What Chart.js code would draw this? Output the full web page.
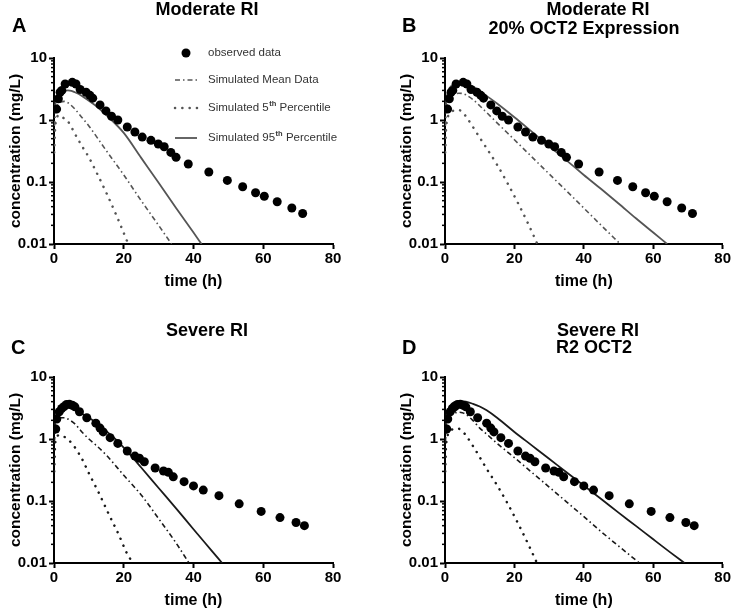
<!DOCTYPE html>
<html>
<head>
<meta charset="utf-8">
<script src="https://cdn.jsdelivr.net/npm/chart.js@4.4.0/dist/chart.umd.min.js"></script>
<style>
  html, body { margin: 0; padding: 0; background: #fff; }
  #wrap { position: relative; width: 732px; height: 611px; overflow: hidden;
          font-family: "Liberation Sans", Arial, sans-serif; }
  #wrap canvas { position: absolute; left: 0; top: 0; }
  .lbl { position: absolute; font-weight: bold; color: #000; white-space: nowrap; line-height: 1; }
  .letter { font-size: 20px; }
  .ttl { font-size: 18px; transform: translateX(-50%); }
</style>
</head>
<body>
<div id="wrap">
  <canvas id="cA" width="732" height="611"></canvas>
  <canvas id="cB" width="732" height="611"></canvas>
  <canvas id="cC" width="732" height="611"></canvas>
  <canvas id="cD" width="732" height="611"></canvas>

  <div class="lbl letter" style="left:12px;top:15px">A</div>
  <div class="lbl letter" style="left:402px;top:15px">B</div>
  <div class="lbl letter" style="left:11px;top:337px">C</div>
  <div class="lbl letter" style="left:402px;top:337px">D</div>

  <div class="lbl ttl" style="left:207px;top:0px">Moderate RI</div>
  <div class="lbl ttl" style="left:598px;top:0px">Moderate RI</div>
  <div class="lbl ttl" style="left:584px;top:19px">20% OCT2 Expression</div>
  <div class="lbl ttl" style="left:207px;top:321px">Severe RI</div>
  <div class="lbl ttl" style="left:598px;top:321px">Severe RI</div>
  <div class="lbl ttl" style="left:594px;top:338px">R2 OCT2</div>
</div>

<script>
// ── Axis ticks ─────────────────────────────────────────────────────────────
const xTicks = [0, 20, 40, 60, 80];
const yTicks = [0.01, 0.1, 1, 10];

// ── Observed data [time (h), concentration (mg/L)] ─────────────────────────
const modObserved = [
  [0.75, 1.5], [1.25, 2.2], [1.75, 2.8], [2.25, 3.0], [3.2, 3.8], [5.25, 4.05],
  [6.3, 3.8], [7.5, 3.1], [9.2, 2.8], [10.3, 2.5], [11.1, 2.25], [13.2, 1.75],
  [14.9, 1.4], [16.5, 1.15], [18.3, 1.0], [21.0, 0.77], [23.2, 0.64], [25.3, 0.53],
  [27.8, 0.47], [29.9, 0.41], [31.6, 0.37], [33.5, 0.30], [35.0, 0.25], [38.5, 0.195],
  [44.4, 0.145], [49.7, 0.106], [54.1, 0.084], [57.8, 0.067], [60.3, 0.059],
  [64.0, 0.048], [68.2, 0.038], [71.3, 0.031]
];
const sevObserved = [
  [0.5, 1.45], [0.8, 2.1], [1.5, 2.75], [2.2, 3.1], [2.9, 3.35], [3.6, 3.6],
  [4.4, 3.65], [5.25, 3.5], [6.0, 3.3], [7.3, 2.75], [9.4, 2.2], [12.0, 1.8],
  [13.2, 1.5], [14.1, 1.3], [16.1, 1.05], [18.3, 0.85], [21.0, 0.64], [23.2, 0.53],
  [24.5, 0.49], [25.9, 0.43], [29.0, 0.34], [31.4, 0.305], [32.8, 0.29], [34.2, 0.245],
  [37.3, 0.205], [40.0, 0.175], [42.8, 0.15], [47.3, 0.122], [53.1, 0.09],
  [59.4, 0.068], [64.8, 0.054], [69.4, 0.045], [71.8, 0.040]
];

// ── Simulated curves, panel A (Moderate RI) ────────────────────────────────
const aMean = [[0.1, 0.8], [0.5, 1.4], [1, 1.75], [2, 1.95], [3, 2.0], [4, 1.9], [6, 1.5],
  [8, 1.1], [10, 0.8], [15, 0.32], [20, 0.13], [25, 0.05], [30, 0.02], [33.7, 0.01]];
const aP5 = [[0.05, 0.3], [0.3, 0.7], [0.6, 1.0], [1, 1.15], [1.5, 1.2], [2, 1.15], [3, 1.05],
  [4, 0.95], [6, 0.6], [8, 0.38], [10, 0.25], [12, 0.15], [15, 0.067], [18, 0.028], [21.3, 0.01]];
const aP95 = [[0.1, 1.3], [0.5, 2.0], [1, 2.5], [2, 2.85], [3, 2.95], [4, 3.0], [5, 2.95],
  [6, 2.8], [8, 2.45], [10, 2.05], [12, 1.7], [15, 1.2], [20, 0.62], [25, 0.245],
  [30, 0.097], [35, 0.038], [40, 0.0153], [42.3, 0.01]];

// ── Panel B (Moderate RI, 20% OCT2 expression) ─────────────────────────────
const bMean = [[0.1, 0.8], [0.5, 1.7], [1, 2.1], [2, 2.5], [3, 2.65], [4, 2.7], [5, 2.68],
  [6, 2.55], [8, 2.15], [10, 1.7], [12, 1.32], [15, 0.9], [20, 0.48], [25, 0.255],
  [30, 0.135], [35, 0.072], [40, 0.038], [45, 0.02], [50.5, 0.01]];
const bP5 = [[0.05, 0.3], [0.3, 0.7], [0.7, 1.05], [1.5, 1.3], [2.5, 1.42], [3.5, 1.45],
  [4.5, 1.42], [6, 1.15], [8, 0.78], [10, 0.52], [12, 0.35], [15, 0.19], [18, 0.096],
  [21, 0.046], [24, 0.021], [26.6, 0.01]];
const bP95 = [[0.1, 1.3], [0.5, 2.3], [1, 3.0], [2, 3.6], [3, 3.85], [4, 3.95], [5, 3.95],
  [6, 3.85], [8, 3.45], [10, 2.95], [12, 2.45], [15, 1.85], [20, 1.11], [25, 0.65],
  [30, 0.38], [35, 0.223], [40, 0.13], [45, 0.077], [50, 0.045], [55, 0.026],
  [60, 0.0153], [64, 0.01]];

// ── Panel C (Severe RI) ────────────────────────────────────────────────────
const cMean = [[0.1, 0.9], [0.5, 1.7], [1, 2.0], [2, 2.2], [3, 2.2], [4, 2.1], [6, 1.75],
  [8, 1.3], [10, 1.0], [12, 0.8], [15, 0.55], [20, 0.26], [25, 0.125], [30, 0.052],
  [35, 0.021], [38.7, 0.01]];
const cP5 = [[0.05, 0.3], [0.3, 0.75], [0.7, 1.05], [1.5, 1.15], [2.5, 1.12], [4, 0.98],
  [5.5, 0.8], [8, 0.48], [10, 0.28], [13, 0.13], [15.6, 0.063], [18.4, 0.03],
  [21, 0.014], [22.7, 0.01]];
const cP95 = [[0.1, 1.4], [0.5, 2.3], [1, 2.8], [2, 3.15], [3, 3.25], [4, 3.25], [5, 3.15],
  [6, 2.95], [8, 2.55], [10, 2.2], [12, 1.85], [14, 1.5], [16, 1.2], [18.4, 0.9],
  [21, 0.63], [25, 0.347], [30, 0.162], [35, 0.076], [40, 0.035], [45, 0.0163], [48.2, 0.01]];

// ── Panel D (Severe RI, R2 OCT2) ───────────────────────────────────────────
const dMean = [[0.1, 0.9], [0.5, 1.8], [1, 2.2], [2, 2.5], [3, 2.65], [4, 2.7], [5, 2.65],
  [6, 2.5], [8, 2.0], [10, 1.5], [12, 1.2], [15, 0.85], [20, 0.5], [25, 0.29],
  [30, 0.168], [35, 0.097], [40, 0.056], [45, 0.032], [50, 0.0188], [56, 0.01]];
const dP5 = [[0.05, 0.3], [0.3, 0.75], [0.7, 1.1], [1.5, 1.35], [2.5, 1.45], [3.5, 1.48],
  [4.5, 1.42], [6, 1.15], [8, 0.78], [10, 0.51], [12, 0.33], [15, 0.18], [18, 0.092],
  [21, 0.044], [24, 0.02], [26.5, 0.01]];
const dP95 = [[0.1, 1.4], [0.5, 2.5], [1, 3.1], [2, 3.7], [3, 3.95], [4, 4.05], [5, 4.05],
  [6, 4.0], [8, 3.7], [10, 3.35], [12, 2.9], [15, 2.2], [20, 1.3], [25, 0.79], [30, 0.48],
  [35, 0.29], [40, 0.177], [45, 0.108], [50, 0.065], [55, 0.0397], [60, 0.0241],
  [65, 0.0147], [69, 0.01]];

const legendLabels = [
  ['observed data'],
  ['Simulated Mean Data'],
  ['Simulated 5', 'th', ' Percentile'],
  ['Simulated 95', 'th', ' Percentile'],
];

// ── Styles ─────────────────────────────────────────────────────────────────
const FONT = '"Liberation Sans", Arial, sans-serif';
const Y_AXIS_W = 54;
const X_AXIS_H = 48;
const DASH_DOT = [5, 3, 1.5, 3];
const DOTS = [0.1, 7.2];

function toXY(pairs) {
  return pairs.map(p => ({ x: p[0], y: p[1] }));
}

// minor log ticks (2..9 per decade), shorter than the major ones
const minorTicks = {
  id: 'minorTicks',
  afterDraw(chart) {
    const y = chart.scales.y, ctx = chart.ctx;
    ctx.save();
    ctx.strokeStyle = '#000';
    ctx.lineWidth = 1.5;
    for (let e = -2; e < 1; e++) {
      for (let k = 2; k < 10; k++) {
        const py = y.getPixelForValue(k * Math.pow(10, e));
        ctx.beginPath();
        ctx.moveTo(y.right, py);
        ctx.lineTo(y.right - 3, py);
        ctx.stroke();
      }
    }
    ctx.restore();
  }
};

// legend drawn inside panel A, top right
function legendPlugin(color) {
  return {
    id: 'panelLegend',
    afterDraw(chart) {
      const ctx = chart.ctx;
      const rowsY = [53, 80, 108, 138];
      const x0 = 175, x1 = 197, tx = 208;
      ctx.save();
      // markers
      ctx.fillStyle = '#000';
      ctx.beginPath();
      ctx.arc(186, rowsY[0], 4.5, 0, Math.PI * 2);
      ctx.fill();
      ctx.strokeStyle = color;
      const styles = [
        null,
        { dash: DASH_DOT, w: 1.6, cap: 'butt' },
        { dash: DOTS, w: 2.5, cap: 'round' },
        { dash: [], w: 1.8, cap: 'butt' },
      ];
      for (let i = 1; i < 4; i++) {
        ctx.setLineDash(styles[i].dash);
        ctx.lineWidth = styles[i].w;
        ctx.lineCap = styles[i].cap;
        ctx.beginPath();
        ctx.moveTo(x0, rowsY[i]);
        ctx.lineTo(x1, rowsY[i]);
        ctx.stroke();
      }
      ctx.setLineDash([]);
      // labels
      ctx.fillStyle = '#333';
      ctx.textBaseline = 'middle';
      legendLabels.forEach((parts, i) => {
        let x = tx;
        ctx.font = '11.5px ' + FONT;
        ctx.fillText(parts[0], x, rowsY[i]);
        x += ctx.measureText(parts[0]).width;
        if (parts.length > 1) {
          ctx.font = 'bold 7.5px ' + FONT;
          ctx.fillText(parts[1], x + 0.5, rowsY[i] - 4);
          x += ctx.measureText(parts[1]).width + 0.5;
          ctx.font = '11.5px ' + FONT;
          ctx.fillText(parts[2], x, rowsY[i]);
        }
      });
      ctx.restore();
    }
  };
}

function makePanel(id, area, observed, mean, p5, p95, color, extraPlugins) {
  const tickFont = { family: FONT, size: 15, weight: 'bold' };
  return new Chart(document.getElementById(id), {
    type: 'scatter',
    data: {
      datasets: [
        { label: 'observed data', data: toXY(observed), showLine: false,
          pointRadius: 4.5, pointBackgroundColor: '#000', pointBorderWidth: 0, order: 0 },
        { label: 'Simulated Mean Data', data: toXY(mean), showLine: true, pointRadius: 0,
          borderColor: color, borderWidth: 1.6, borderDash: DASH_DOT,
          cubicInterpolationMode: 'monotone', order: 1 },
        { label: 'Simulated 5th Percentile', data: toXY(p5), showLine: true, pointRadius: 0,
          borderColor: color, borderWidth: 2.5, borderDash: DOTS, borderCapStyle: 'round',
          cubicInterpolationMode: 'monotone', order: 1 },
        { label: 'Simulated 95th Percentile', data: toXY(p95), showLine: true, pointRadius: 0,
          borderColor: color, borderWidth: 1.8,
          cubicInterpolationMode: 'monotone', order: 1 },
      ]
    },
    options: {
      responsive: false,
      animation: false,
      devicePixelRatio: 1,
      layout: {
        padding: {
          left: area.left - Y_AXIS_W,
          top: area.top,
          right: 732 - area.right,
          bottom: 611 - area.bottom - X_AXIS_H,
        }
      },
      plugins: { legend: { display: false }, tooltip: { enabled: false } },
      scales: {
        x: {
          type: 'linear', min: 0, max: 80,
          afterBuildTicks: s => { s.ticks = xTicks.map(v => ({ value: v })); },
          afterFit: s => { s.height = X_AXIS_H; },
          grid: { drawOnChartArea: false, tickLength: 5, tickColor: '#000', tickWidth: 2 },
          border: { color: '#000', width: 2 },
          ticks: { color: '#000', font: tickFont, padding: 1, maxRotation: 0, autoSkip: false },
          title: { display: true, text: 'time (h)', color: '#000',
                   font: { family: FONT, size: 16, weight: 'bold' }, padding: { top: 0, bottom: 1 } }
        },
        y: {
          type: 'logarithmic', min: 0.01, max: 10,
          afterBuildTicks: s => { s.ticks = yTicks.map(v => ({ value: v })); },
          afterFit: s => { s.width = Y_AXIS_W; },
          grid: { drawOnChartArea: false, tickLength: 5, tickColor: '#000', tickWidth: 2 },
          border: { color: '#000', width: 2 },
          ticks: { color: '#000', font: tickFont, padding: 2, autoSkip: false,
                   callback: v => String(v) },
          title: { display: true, text: 'concentration (mg/L)', color: '#000',
                   font: { family: FONT, size: 15.5, weight: 'bold' }, padding: { top: 6, bottom: 0 } }
        }
      }
    },
    plugins: [minorTicks].concat(extraPlugins || [])
  });
}

const GREY = '#555';
const DARK = '#1a1a1a';

makePanel('cA', { left: 54, right: 333, top: 58, bottom: 244 }, modObserved, aMean, aP5, aP95, GREY, [legendPlugin(GREY)]);
makePanel('cB', { left: 445, right: 724, top: 58, bottom: 244 }, modObserved, bMean, bP5, bP95, GREY);
makePanel('cC', { left: 54, right: 333, top: 377, bottom: 563 }, sevObserved, cMean, cP5, cP95, DARK);
makePanel('cD', { left: 445, right: 724, top: 377, bottom: 563 }, sevObserved, dMean, dP5, dP95, DARK);
</script>
</body>
</html>
